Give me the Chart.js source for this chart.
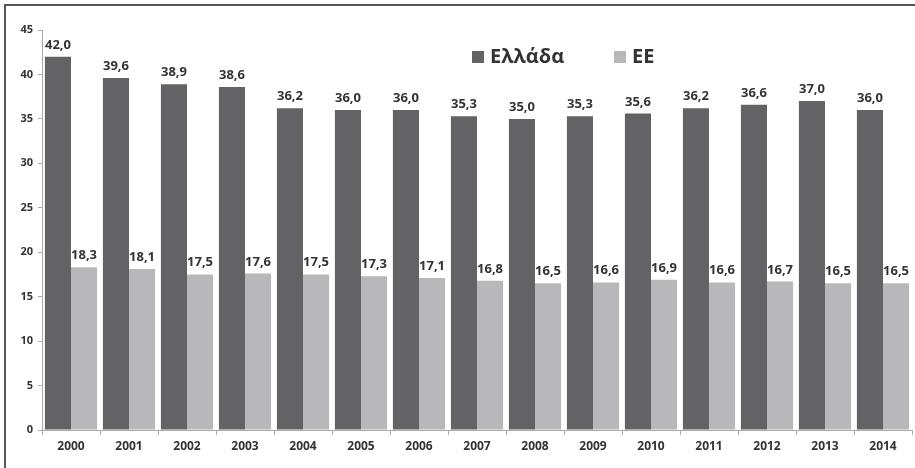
<!DOCTYPE html>
<html>
<head>
<meta charset="utf-8">
<script src="https://cdn.jsdelivr.net/npm/chart.js@4.4.1/dist/chart.umd.min.js"></script>
<style>
  html, body { margin: 0; padding: 0; background: #fff; }
  #wrap { position: relative; width: 915px; height: 468px; overflow: hidden; }
  #frame { position: absolute; left: 4px; top: 4px; width: 930px; height: 480px; border: 2px solid #555; box-sizing: border-box; pointer-events: none; }
  canvas { position: absolute; left: 0; top: 0; }
</style>
</head>
<body>
<div id="wrap">
  <canvas id="myChart" width="915" height="468"></canvas>
  <div id="frame"></div>
</div>
<script>
const years = ['2000', '2001', '2002', '2003', '2004', '2005', '2006', '2007', '2008', '2009', '2010', '2011', '2012', '2013', '2014'];
const greece = [42.0, 39.6, 38.9, 38.6, 36.2, 36.0, 36.0, 35.3, 35.0, 35.3, 35.6, 36.2, 36.6, 37.0, 36.0];
const eu = [18.3, 18.1, 17.5, 17.6, 17.5, 17.3, 17.1, 16.8, 16.5, 16.6, 16.9, 16.6, 16.7, 16.5, 16.5];
const seriesNames = ['Ελλάδα', 'ΕΕ'];
const seriesColors = ['#636365', '#b8b8ba'];

const fontFamily = '"Open Sans", "Noto Sans", sans-serif';

// etiketes timwn panw apo tis mpares
const valueLabels = {
    id: 'valueLabels',
    afterDatasetsDraw(chart) {
        const ctx = chart.ctx;
        ctx.save();
        ctx.font = 'bold 13px ' + fontFamily;
        ctx.fillStyle = '#333';
        ctx.textAlign = 'center';
        ctx.textBaseline = 'alphabetic';
        chart.data.datasets.forEach((ds, i) => {
            chart.getDatasetMeta(i).data.forEach((bar, j) => {
                const txt = ds.data[j].toFixed(1).replace('.', ',');
                ctx.fillText(txt, bar.x, bar.y - 8);
            });
        });
        ctx.restore();
    }
};

// upomnima mesa sto grafima
const insideLegend = {
    id: 'insideLegend',
    afterDraw(chart) {
        const ctx = chart.ctx;
        ctx.save();
        ctx.font = 'bold 20px ' + fontFamily;
        ctx.textBaseline = 'middle';
        const starts = [472, 614];
        chart.data.datasets.forEach((ds, i) => {
            const x = starts[i];
            ctx.fillStyle = ds.backgroundColor;
            ctx.fillRect(x, 51, 12, 12);
            ctx.fillStyle = '#333';
            ctx.fillText(ds.label, x + 18, 57);
        });
        ctx.restore();
    }
};

const ctx = document.getElementById('myChart').getContext('2d');
const chart = new Chart(ctx, {
    type: 'bar',
    data: {
        labels: years,
        datasets: [
            { label: seriesNames[0], data: greece, backgroundColor: seriesColors[0] },
            { label: seriesNames[1], data: eu, backgroundColor: seriesColors[1] }
        ]
    },
    options: {
        responsive: false,
        animation: false,
        layout: { padding: { top: 30, right: 3, left: 0, bottom: 0 } },
        datasets: {
            bar: { categoryPercentage: 0.9, barPercentage: 1.0 }
        },
        plugins: {
            legend: { display: false },
            tooltip: { enabled: false }
        },
        scales: {
            x: {
                grid: { drawOnChartArea: false, drawTicks: true, tickLength: 5, color: '#aaa' },
                border: { color: '#aaa' },
                ticks: { color: '#333', font: { family: fontFamily, size: 12, weight: 'bold' }, padding: 4 },
                afterFit(scale) { scale.height = 38; }
            },
            y: {
                min: 0,
                max: 45,
                ticks: { stepSize: 5, color: '#333', font: { family: fontFamily, size: 11, weight: 'bold' }, padding: 5 },
                grid: { drawOnChartArea: false, drawTicks: true, tickLength: 4, color: '#aaa' },
                border: { color: '#aaa' },
                afterFit(scale) { scale.width = 42; }
            }
        }
    },
    plugins: [valueLabels, insideLegend]
});
</script>
</body>
</html>
